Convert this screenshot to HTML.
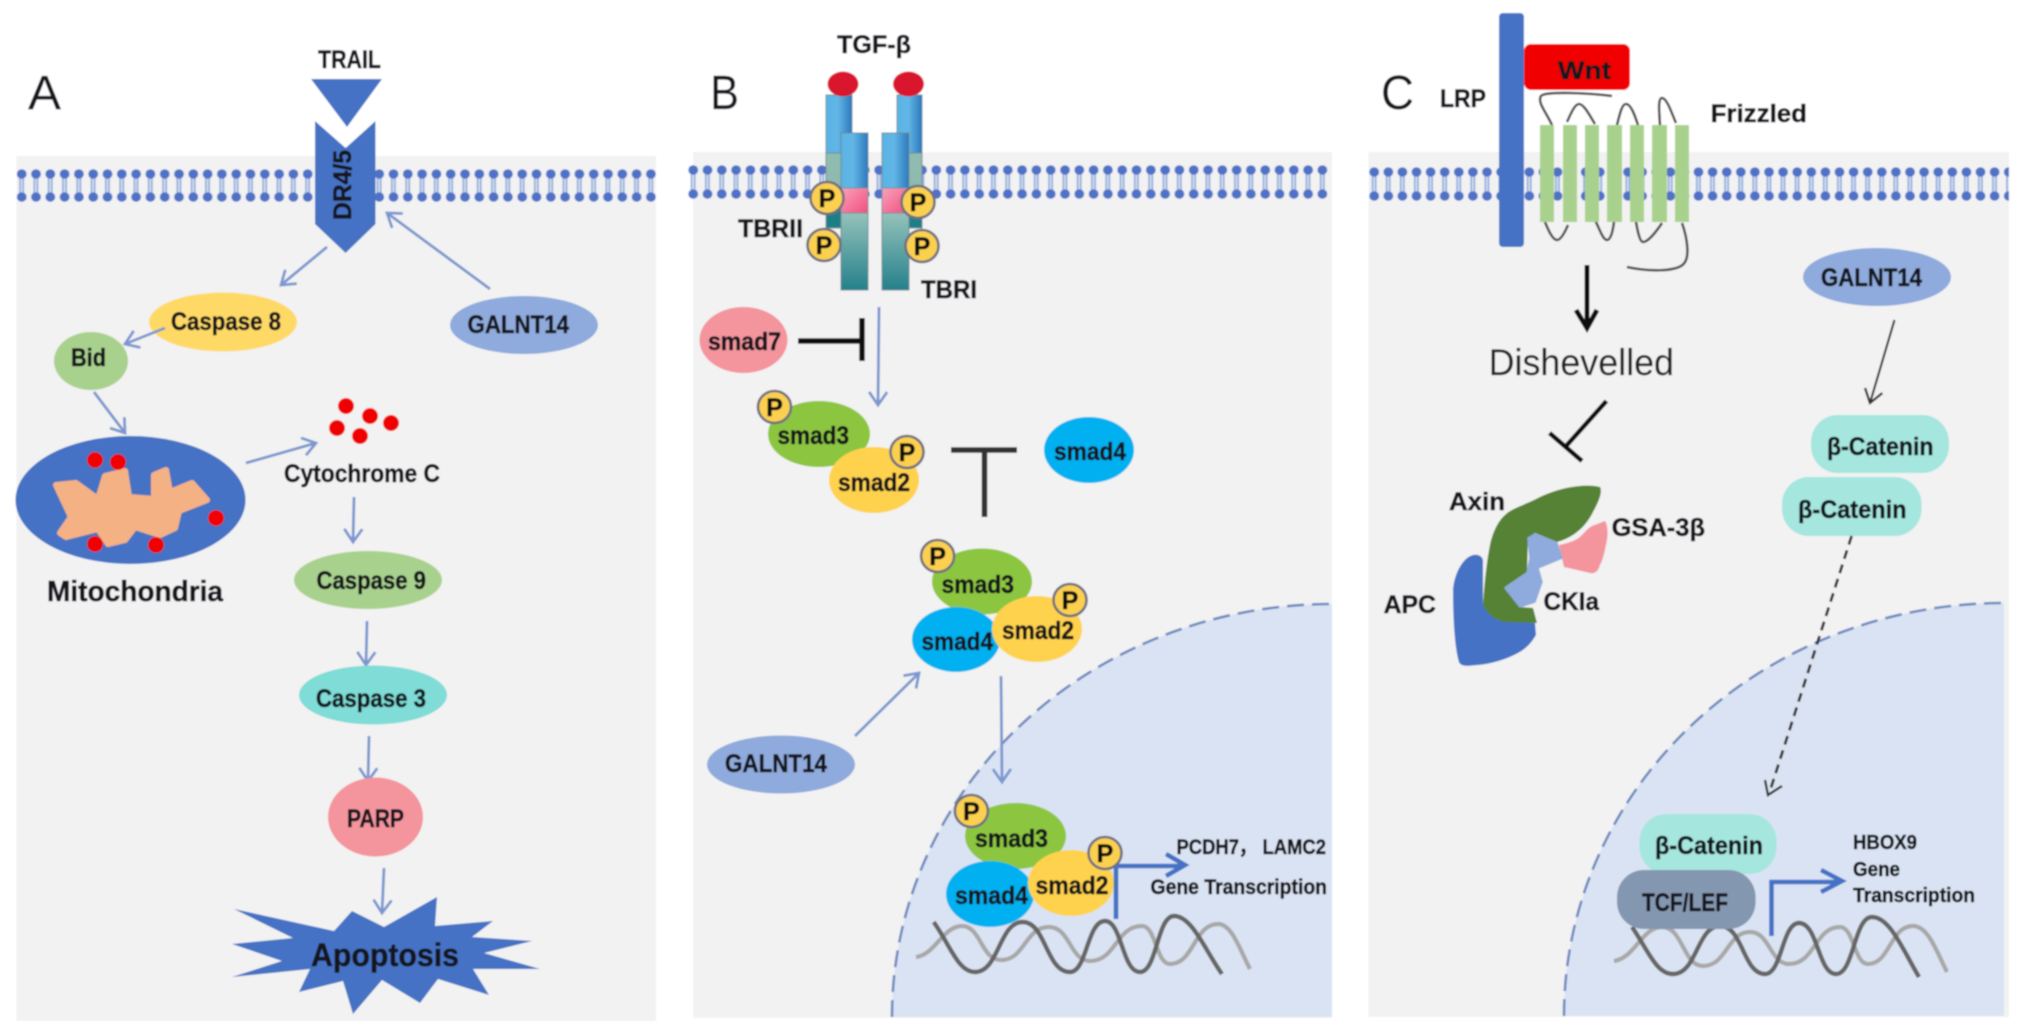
<!DOCTYPE html>
<html>
<head>
<meta charset="utf-8">
<style>
html,body{margin:0;padding:0;background:#fff;width:2032px;height:1034px;overflow:hidden}
svg{display:block}
text{font-family:"Liberation Sans",sans-serif;font-weight:bold;fill:#14181f;stroke:#14181f;stroke-width:.55px;font-size:25px}
.r{font-weight:normal;stroke-width:.15px}
.p{text-anchor:middle;font-size:25px;fill:#111;stroke:#111}
.ar{fill:none;stroke:#7b97cf;stroke-width:2.8;marker-end:url(#hb)}
.pc{fill:#fcd04f;stroke:#707080;stroke-width:2.6}
.box{stroke:#6d8c98;stroke-width:1}
</style>
</head>
<body>
<svg width="2032" height="1034" viewBox="0 0 2032 1034" xmlns="http://www.w3.org/2000/svg">
<defs>
<filter id="soft" x="0" y="0" width="100%" height="100%"><feGaussianBlur stdDeviation="0.8"/></filter>
<marker id="hb" markerUnits="userSpaceOnUse" markerWidth="30" markerHeight="30" refX="15" refY="15" orient="auto" viewBox="0 0 30 30"><path d="M2 6 L15 15 L2 24" fill="none" stroke="#7b97cf" stroke-width="2.8"/></marker>
<marker id="hd" markerUnits="userSpaceOnUse" markerWidth="30" markerHeight="30" refX="15" refY="15" orient="auto" viewBox="0 0 30 30"><path d="M2 6 L15 15 L2 24" fill="none" stroke="#333" stroke-width="2.4"/></marker>
<pattern id="lipA" patternUnits="userSpaceOnUse" x="14.5" y="165" width="14.3" height="40">
<path d="M5.6 9 V32 M8.6 9 V32" stroke="#93aede" stroke-width="1.9" fill="none"/>
<ellipse cx="7.2" cy="9" rx="4.9" ry="4.7" fill="#4f72c6"/><ellipse cx="7.2" cy="32" rx="4.9" ry="4.7" fill="#4f72c6"/>
</pattern>
<pattern id="lipB" patternUnits="userSpaceOnUse" x="686" y="161" width="14.3" height="40">
<path d="M5.6 9 V33 M8.6 9 V33" stroke="#93aede" stroke-width="1.9" fill="none"/>
<ellipse cx="7.2" cy="9" rx="4.9" ry="4.7" fill="#4f72c6"/><ellipse cx="7.2" cy="33" rx="4.9" ry="4.7" fill="#4f72c6"/>
</pattern>
<pattern id="lipC" patternUnits="userSpaceOnUse" x="1367" y="163" width="14.1" height="40">
<path d="M5.6 9 V33 M8.6 9 V33" stroke="#93aede" stroke-width="1.9" fill="none"/>
<ellipse cx="7.2" cy="9" rx="4.9" ry="4.7" fill="#4f72c6"/><ellipse cx="7.2" cy="33" rx="4.9" ry="4.7" fill="#4f72c6"/>
</pattern>
<linearGradient id="blue" x1="0" x2="1" y1="0" y2="0"><stop offset="0" stop-color="#58b4e4"/><stop offset=".45" stop-color="#62b6e6"/><stop offset="1" stop-color="#2a78bc"/></linearGradient>
<linearGradient id="teal" x1="0" x2="0" y1="0" y2="1"><stop offset="0" stop-color="#95c2ba"/><stop offset="1" stop-color="#24808a"/></linearGradient>
<linearGradient id="teal2" x1="0" x2="0" y1="0" y2="1"><stop offset="0" stop-color="#90bcb0"/><stop offset=".55" stop-color="#8cb8ae"/><stop offset=".75" stop-color="#1f7f86"/><stop offset="1" stop-color="#1f7f86"/></linearGradient>
<linearGradient id="pink" x1="0" x2="1" y1="0" y2="1"><stop offset="0" stop-color="#f7a4bb"/><stop offset=".6" stop-color="#f46f96"/><stop offset="1" stop-color="#ee4f82"/></linearGradient>
</defs>
<g filter="url(#soft)">
<rect width="2032" height="1034" fill="#fff"/>

<!-- PANEL A -->
<rect x="16.5" y="156" width="639.5" height="865" fill="#f2f2f2"/>
<rect x="14.5" y="165" width="644" height="40" fill="url(#lipA)"/>
<text class="r" x="28" y="109" style="font-size:48px" textLength="33" lengthAdjust="spacingAndGlyphs">A</text>
<text x="318" y="68" textLength="63" lengthAdjust="spacingAndGlyphs">TRAIL</text>
<polygon points="311,79 382,79 347,127" fill="#4472c4"/>
<polygon points="315,121 345.6,148 375.5,121 375.5,224 345.6,253 315,224" fill="#4472c4"/>
<text transform="translate(351,220) rotate(-90)" textLength="70" lengthAdjust="spacingAndGlyphs">DR4/5</text>
<line class="ar" x1="327" y1="247" x2="281" y2="285"/>
<line class="ar" x1="490" y1="289" x2="387" y2="213"/>
<ellipse cx="223" cy="322" rx="74" ry="29.5" fill="#ffd966"/>
<line class="ar" x1="165" y1="328" x2="125" y2="344"/>
<text x="171" y="330" textLength="110" lengthAdjust="spacingAndGlyphs">Caspase 8</text>
<ellipse cx="524" cy="325" rx="74" ry="29" fill="#8faadc"/>
<text x="467.5" y="333" textLength="101.5" lengthAdjust="spacingAndGlyphs">GALNT14</text>
<ellipse cx="91" cy="361" rx="37" ry="29" fill="#a9d18e"/>
<text x="71" y="366" textLength="35" lengthAdjust="spacingAndGlyphs">Bid</text>
<line class="ar" x1="94" y1="392" x2="125" y2="433"/>
<ellipse cx="130.5" cy="500" rx="115" ry="64" fill="#4472c4"/>
<polygon points="56,485 76,483 98,499 105,476 125,471 129,497 154,499 154,475 166,470 170,492 192,483 207,500 179,511 175,528 160,535 135,527 125,540 108,544 98,529 66,537 60,533 71,517" fill="#f4b183" stroke="#f4b183" stroke-width="6" stroke-linejoin="round"/>
<g fill="#f00000">
<circle cx="95" cy="460" r="8"/><circle cx="118" cy="462" r="8"/><circle cx="216" cy="518" r="8"/><circle cx="95" cy="544" r="8"/><circle cx="156" cy="545" r="8"/>
<circle cx="346" cy="406" r="8"/><circle cx="370" cy="416" r="8"/><circle cx="391" cy="423" r="8"/><circle cx="337" cy="428" r="8"/><circle cx="360" cy="436" r="8"/>
</g>
<line class="ar" x1="246" y1="463" x2="316" y2="443"/>
<text x="284" y="482" textLength="156" lengthAdjust="spacingAndGlyphs">Cytochrome C</text>
<line class="ar" x1="354" y1="497" x2="353" y2="542"/>
<text x="47" y="601" style="font-size:29px" textLength="176" lengthAdjust="spacingAndGlyphs">Mitochondria</text>
<ellipse cx="368" cy="580" rx="74" ry="29" fill="#a9d18e"/>
<text x="316.5" y="589" textLength="109.5" lengthAdjust="spacingAndGlyphs">Caspase 9</text>
<line class="ar" x1="367" y1="621" x2="366" y2="665"/>
<ellipse cx="373" cy="695" rx="74" ry="29.5" fill="#7fdcd6"/>
<text x="316" y="707" textLength="110" lengthAdjust="spacingAndGlyphs">Caspase 3</text>
<line class="ar" x1="369" y1="736" x2="368" y2="781"/>
<ellipse cx="375.5" cy="817" rx="47.5" ry="39.5" fill="#f4949c"/>
<text x="347" y="827" textLength="57" lengthAdjust="spacingAndGlyphs">PARP</text>
<line class="ar" x1="384" y1="868" x2="382" y2="913"/>
<polygon points="234,909 334,931 352,911 384,927 437,897 435,926 493,921 472,937 532,941 484,953 540,969 473,969 489,995 438,979 420,1003 382,980 353,1014 343,981 299,992 310,969 232,977 282,961 232,944 293,938" fill="#4472c4"/>
<text x="311" y="966" style="font-size:32px" textLength="148" lengthAdjust="spacingAndGlyphs">Apoptosis</text>

<!-- PANEL B -->
<rect x="693" y="152" width="639" height="866" fill="#f2f2f2"/>
<rect x="686" y="161" width="645" height="40" fill="url(#lipB)"/>
<path d="M892 1017 A440 413 0 0 1 1332 604 L1332 1017 Z" fill="#dae3f3"/>
<path d="M892 1017 A440 413 0 0 1 1332 604" fill="none" stroke="#6f8bc0" stroke-width="2.6" stroke-dasharray="17 8"/>
<text class="r" x="710" y="109" style="font-size:48px" textLength="29" lengthAdjust="spacingAndGlyphs">B</text>
<text x="837" y="53" textLength="74" lengthAdjust="spacingAndGlyphs">TGF-β</text>
<rect class="box" x="826" y="95" width="26" height="58" fill="url(#blue)"/>
<rect class="box" x="897" y="95" width="25" height="58" fill="url(#blue)"/>
<rect class="box" x="826" y="153" width="26" height="75" fill="url(#teal2)"/>
<rect class="box" x="897" y="153" width="25" height="75" fill="url(#teal2)"/>
<ellipse cx="843" cy="84" rx="15.5" ry="12.5" fill="#d9182d"/>
<ellipse cx="908.5" cy="84" rx="15.5" ry="12.5" fill="#d9182d"/>
<rect class="box" x="841" y="133" width="27" height="55" fill="url(#blue)"/>
<rect class="box" x="882" y="133" width="27" height="55" fill="url(#blue)"/>
<rect class="box" x="841" y="188" width="27" height="25" fill="url(#pink)"/>
<rect x="882" y="188" width="27" height="25" fill="url(#pink)" class="box"/>
<rect class="box" x="841" y="213" width="27" height="77" fill="url(#teal)"/>
<rect class="box" x="882" y="213" width="27" height="77" fill="url(#teal)"/>
<ellipse class="pc" cx="827" cy="198" rx="16.5" ry="16"/><text class="p" x="827" y="207">P</text>
<ellipse class="pc" cx="824" cy="245" rx="16.5" ry="16"/><text class="p" x="824" y="254">P</text>
<ellipse class="pc" cx="918" cy="202" rx="16.5" ry="16"/><text class="p" x="918" y="211">P</text>
<ellipse class="pc" cx="922" cy="246" rx="16.5" ry="16"/><text class="p" x="922" y="255">P</text>
<text x="738" y="237" textLength="65" lengthAdjust="spacingAndGlyphs">TBRII</text>
<text x="921" y="298" textLength="56" lengthAdjust="spacingAndGlyphs">TBRI</text>
<line class="ar" x1="879" y1="307" x2="878" y2="405"/>
<ellipse cx="743.5" cy="340" rx="44" ry="33" fill="#f4949c"/>
<text x="708" y="350" textLength="73" lengthAdjust="spacingAndGlyphs">smad7</text>
<path d="M798 341 H862 M862 318 V361" stroke="#111" stroke-width="5.5" fill="none"/>
<ellipse cx="819" cy="434" rx="51" ry="33" fill="#8cc63f"/>
<text x="777.5" y="444" textLength="71.5" lengthAdjust="spacingAndGlyphs">smad3</text>
<ellipse cx="874" cy="480" rx="45" ry="33" fill="#ffd24d"/>
<text x="838" y="491" textLength="72" lengthAdjust="spacingAndGlyphs">smad2</text>
<ellipse class="pc" cx="774.5" cy="407" rx="16.5" ry="16"/><text class="p" x="774.5" y="416">P</text>
<ellipse class="pc" cx="907" cy="452" rx="16.5" ry="16"/><text class="p" x="907" y="461">P</text>
<path d="M951 450 H1017 M984.5 450 V517" stroke="#333" stroke-width="5.5" fill="none"/>
<ellipse cx="1089" cy="450" rx="45" ry="33" fill="#00b0f0"/>
<text x="1054" y="460" textLength="72" lengthAdjust="spacingAndGlyphs">smad4</text>

<ellipse cx="982" cy="581.5" rx="50" ry="33" fill="#8cc63f"/>
<text x="941.5" y="593" textLength="72.5" lengthAdjust="spacingAndGlyphs">smad3</text>
<ellipse cx="956" cy="639.5" rx="44" ry="32.5" fill="#00b0f0"/>
<ellipse cx="1037" cy="629" rx="45" ry="33" fill="#ffd24d"/>
<text x="921.5" y="650" textLength="71.5" lengthAdjust="spacingAndGlyphs">smad4</text>
<text x="1002" y="639" textLength="72" lengthAdjust="spacingAndGlyphs">smad2</text>
<ellipse class="pc" cx="937.6" cy="556" rx="16.5" ry="16"/><text class="p" x="937.6" y="565">P</text>
<ellipse class="pc" cx="1070" cy="600" rx="16.5" ry="16"/><text class="p" x="1070" y="609">P</text>
<line class="ar" x1="855" y1="736" x2="919" y2="673"/>
<ellipse cx="781" cy="764.5" rx="74" ry="29" fill="#8faadc"/>
<text x="725" y="772" textLength="102" lengthAdjust="spacingAndGlyphs">GALNT14</text>
<line class="ar" x1="1001" y1="676" x2="1002" y2="782"/>

<path d="M916 957 C935 955 943 926 962 926 C981 926 981 960 1001 960 C1025 960 1025 927 1049 927 C1070 927 1070 961 1090 961 C1116 961 1116 926 1142 926 C1156 926 1156 964 1170 964 C1194 964 1194 924 1218 924 C1232 924 1240 950 1250 969" fill="none" stroke="#a8a8a8" stroke-width="4.2"/>
<path d="M933.7 922 C950 945 958 972 975 972 C999 972 999 922 1022.6 922 C1046 922 1046 972 1070 972 C1087 972 1087 921 1105 921 C1122 921 1122 972 1140 972 C1157 972 1157 916 1174 916 C1192 916 1205 950 1222 974" fill="none" stroke="#666" stroke-width="4.4"/>
<ellipse cx="1015.5" cy="836" rx="50.5" ry="33" fill="#8cc63f"/>
<text x="975" y="847" textLength="73" lengthAdjust="spacingAndGlyphs">smad3</text>
<ellipse cx="990" cy="894" rx="44" ry="33" fill="#00b0f0"/>
<ellipse cx="1071" cy="883" rx="43" ry="33" fill="#ffd24d"/>
<text x="955" y="904" textLength="73" lengthAdjust="spacingAndGlyphs">smad4</text>
<text x="1035.5" y="894" textLength="73" lengthAdjust="spacingAndGlyphs">smad2</text>
<path d="M1116 919 V866 H1184 M1166 854 L1185 865 L1166 876" fill="none" stroke="#4472c4" stroke-width="4.6"/>
<ellipse class="pc" cx="971.4" cy="811" rx="16.5" ry="16"/><text class="p" x="971.4" y="820">P</text>
<ellipse class="pc" cx="1105" cy="853" rx="16.5" ry="16"/><text class="p" x="1105" y="862">P</text>
<text x="1176.5" y="854" style="font-size:21px" textLength="149.5" lengthAdjust="spacingAndGlyphs">PCDH7， LAMC2</text>
<text x="1150.5" y="894" style="font-size:21px" textLength="176.5" lengthAdjust="spacingAndGlyphs">Gene Transcription</text>

<!-- PANEL C -->
<rect x="1368.5" y="152" width="640.5" height="865" fill="#f2f2f2"/>
<rect x="1367" y="163" width="642" height="40" fill="url(#lipC)"/>
<path d="M1564 1016 A440 413 0 0 1 2004 603 L2004 1016 Z" fill="#dae3f3"/>
<path d="M1564 1016 A440 413 0 0 1 2004 603" fill="none" stroke="#6f8bc0" stroke-width="2.6" stroke-dasharray="17 8"/>
<text class="r" x="1381" y="109" style="font-size:48px" textLength="33" lengthAdjust="spacingAndGlyphs">C</text>
<text x="1440" y="107" textLength="46" lengthAdjust="spacingAndGlyphs">LRP</text>
<rect x="1499" y="13" width="25" height="234" rx="4" fill="#4472c4"/>
<rect x="1524" y="44" width="106" height="46" rx="7" fill="#f00000"/>
<text x="1558" y="79" textLength="53" lengthAdjust="spacingAndGlyphs">Wnt</text>
<text x="1710.6" y="122" textLength="96.4" lengthAdjust="spacingAndGlyphs">Frizzled</text>
<g fill="none" stroke="#505050" stroke-width="2.6">
<path d="M1552 125 C1546 112 1537 102 1541 96 C1544 91 1590 93 1612 96"/>
<path d="M1567 122 C1571 113 1575 104 1579 104 C1584 104 1590 116 1595 124"/>
<path d="M1617 125 C1620 113 1622 104 1626 104 C1631 104 1635 116 1638 125"/>
<path d="M1660 125 C1659 110 1658 98 1662 98 C1667 98 1672 114 1676 123"/>
<path d="M1545 222 C1549 232 1553 240 1557 240 C1561 240 1565 232 1568 225"/>
<path d="M1595 220 C1600 230 1603 240 1607 240 C1611 240 1613 230 1614 222"/>
<path d="M1636 222 C1638 233 1640 242 1643 242 C1648 242 1656 232 1662 223"/>
<path d="M1682 223 C1688 240 1689 256 1685 262 C1680 272 1650 272 1627 267"/>
</g>
<g fill="#a9d18e">
<rect x="1540" y="125" width="14" height="97"/><rect x="1563" y="125" width="14" height="97"/><rect x="1585" y="125" width="14" height="97"/><rect x="1607" y="125" width="15" height="97"/><rect x="1630" y="125" width="14" height="97"/><rect x="1652" y="125" width="15" height="97"/><rect x="1675" y="125" width="14" height="97"/>
</g>
<path d="M1587 265 V326" fill="none" stroke="#111" stroke-width="5"/>
<path d="M1576 310 L1587 328 L1597 310" fill="none" stroke="#111" stroke-width="5"/>
<text class="r" x="1488.6" y="375" style="font-size:37px;fill:#222;stroke:#222" textLength="185.4" lengthAdjust="spacingAndGlyphs">Dishevelled</text>
<path d="M1606.5 401 L1567 445 M1549.5 433 L1582 461" fill="none" stroke="#111" stroke-width="4.6"/>
<ellipse cx="1877" cy="277" rx="74" ry="29" fill="#8faadc"/>
<text x="1821" y="286" textLength="101" lengthAdjust="spacingAndGlyphs">GALNT14</text>
<line x1="1894.5" y1="320" x2="1870" y2="403" stroke="#333" stroke-width="2.2" marker-end="url(#hd)"/>
<rect x="1811" y="415" width="138" height="58" rx="27" fill="#a5e6de"/>
<text x="1827" y="455" textLength="106.5" lengthAdjust="spacingAndGlyphs">β-Catenin</text>
<rect x="1782" y="477" width="139.5" height="59" rx="27" fill="#a5e6de"/>
<text x="1798" y="518" textLength="108.5" lengthAdjust="spacingAndGlyphs">β-Catenin</text>
<path d="M1851.6 536 L1769 794" fill="none" stroke="#333" stroke-width="2.8" stroke-dasharray="9 6"/>
<path d="M1765 780 L1768 795 L1782 786" fill="none" stroke="#333" stroke-width="2.4"/>

<path d="M1473 555 C1478 554 1482 556 1483 560 L1483 605 L1498 620 L1535 623 L1536 635 C1530 645 1525 649 1518 653 C1505 660 1490 664 1478 665 C1468 666 1461 667 1459 662 C1455 650 1453 620 1453 590 C1454 575 1462 558 1473 555 Z" fill="#4472c4"/>
<path d="M1600 487 C1590 484 1565 485 1540 497 C1525 505 1512 508 1505 515 C1497 522 1492 535 1490 545 C1486 565 1484 590 1483 605 C1488 615 1495 620 1505 622 L1537 623 L1533 608 L1520 607 L1505 587 L1527 572 L1528 538 L1535 533 L1557 542 C1565 540 1572 536 1577 532 C1585 526 1590 518 1593 512 C1598 503 1603 492 1600 487 Z" fill="#548235"/>
<path d="M1605 521 C1608 525 1608 535 1607 540 C1605 550 1603 560 1600 565 C1598 572 1594 574 1590 573 L1564 567 L1559 545 C1568 543 1575 541 1580 537 C1585 532 1588 528 1592 526 Z" fill="#f4949c"/>
<path d="M1528 538 L1535 534 L1557 543 L1562 558 L1538 568 L1542 582 L1535 602 L1520 607 L1505 588 L1527 573 L1530 558 Z" fill="#8faadc" stroke="#8faadc" stroke-width="1.5" stroke-linejoin="round"/>
<text x="1449" y="510" textLength="56" lengthAdjust="spacingAndGlyphs">Axin</text>
<text x="1611.6" y="536" textLength="93.4" lengthAdjust="spacingAndGlyphs">GSA-3β</text>
<text x="1383.6" y="613" textLength="52.4" lengthAdjust="spacingAndGlyphs">APC</text>
<text x="1543.5" y="610" textLength="55.5" lengthAdjust="spacingAndGlyphs">CKIa</text>

<path d="M1614 961 C1635 958 1642 927 1662 927 C1683 927 1683 966 1703 966 C1727 966 1727 932 1750 932 C1770 932 1770 964 1789 964 C1815 964 1815 927 1840 927 C1854 927 1854 964 1868 964 C1890 964 1890 926 1913 926 C1928 926 1936 950 1947 972" fill="none" stroke="#a8a8a8" stroke-width="4.2"/>
<path d="M1632 927 C1648 950 1656 974 1673 974 C1697 974 1697 926 1720 926 C1743 926 1743 974 1765 974 C1782 974 1782 923 1799 923 C1818 923 1818 974 1836 974 C1854 974 1854 917 1872 917 C1890 917 1903 950 1919 977" fill="none" stroke="#666" stroke-width="4.4"/>
<rect x="1639.5" y="814" width="137" height="60" rx="27" fill="#a5e6de"/>
<text x="1655" y="854" textLength="108" lengthAdjust="spacingAndGlyphs">β-Catenin</text>
<rect x="1617" y="870" width="138.6" height="59" rx="27" fill="#8497b0"/>
<text x="1642" y="911" textLength="86" lengthAdjust="spacingAndGlyphs">TCF/LEF</text>
<path d="M1771.5 936 V882 H1841 M1821 870 L1842 881 L1821 892" fill="none" stroke="#4472c4" stroke-width="4.6"/>
<text x="1853" y="849" style="font-size:20px" textLength="64" lengthAdjust="spacingAndGlyphs">HBOX9</text>
<text x="1853" y="876" style="font-size:20px" textLength="47" lengthAdjust="spacingAndGlyphs">Gene</text>
<text x="1853" y="902" style="font-size:20px" textLength="122" lengthAdjust="spacingAndGlyphs">Transcription</text>
</g>
</svg>
</body>
</html>
